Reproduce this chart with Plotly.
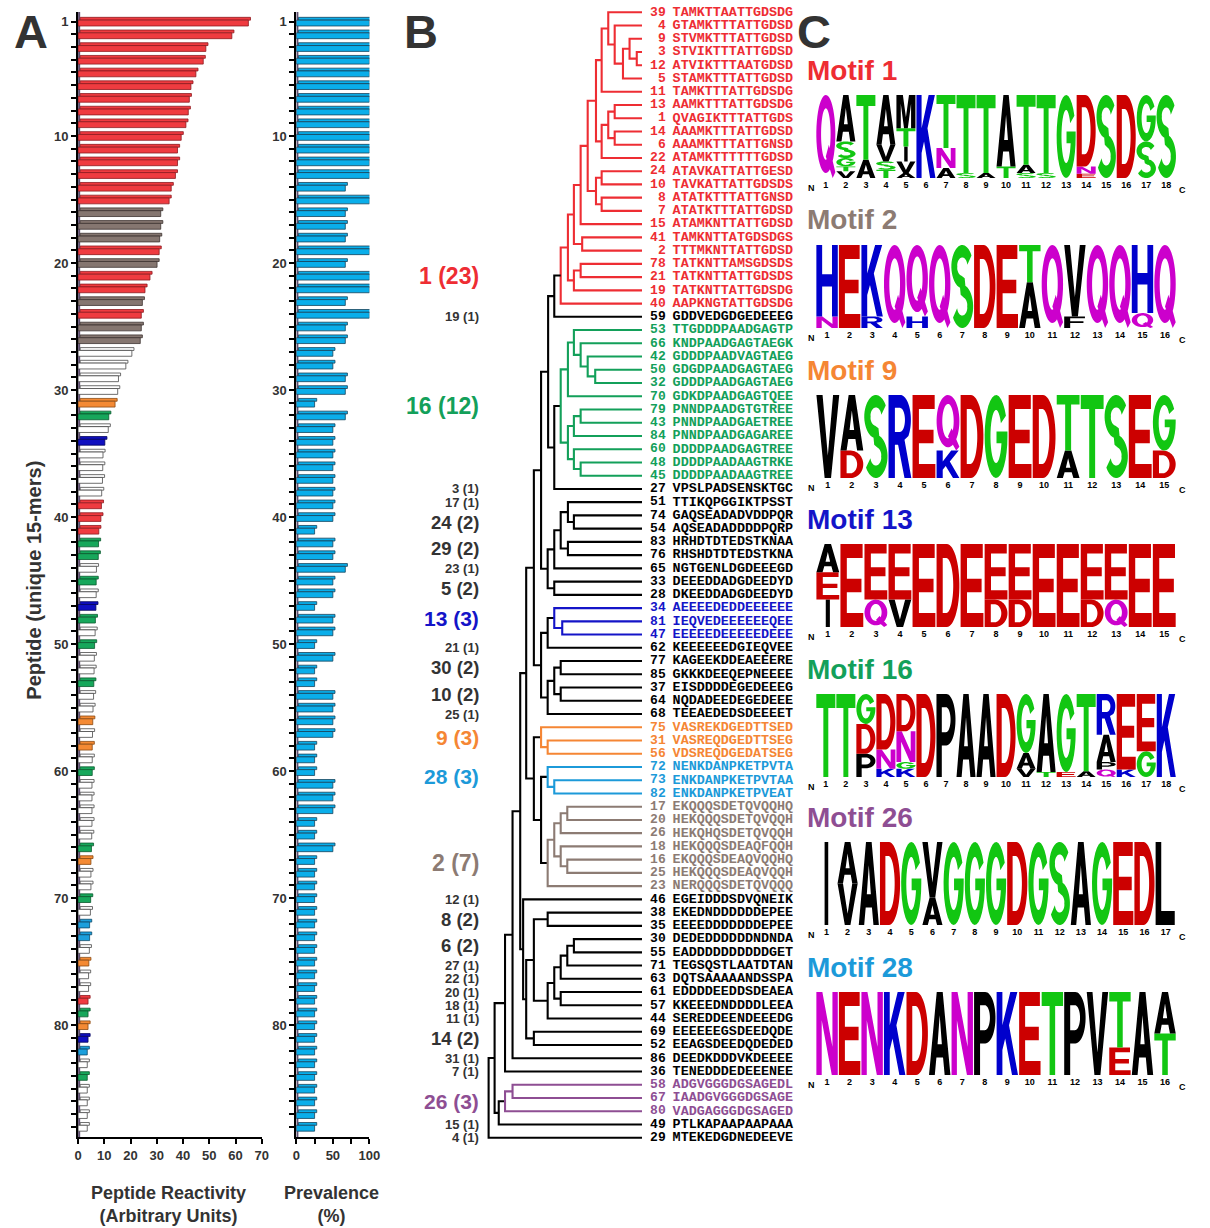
import numpy as np
import plotly.graph_objects as go

W, H = 1210, 1228
SANS = "Liberation Sans, Arial, Helvetica, sans-serif"
MONO = "Liberation Mono, Courier New, monospace"
INK = "#333333"


def fx(p):
    return p / W


def fy(p):
    return 1 - p / H


# ---------------- Panel A: reactivity / prevalence per peptide ----------------
peptide_rank = list(range(1, 89))
reactivity = [
    64.9, 58.6, 48.7, 47.7, 44.9, 43.0, 42.4, 42.0, 41.1, 39.3,
    37.9, 37.9, 37.1, 35.5, 34.7, 31.5, 31.5, 31.1, 30.9, 30.1,
    27.4, 25.5, 24.5, 24.1, 24.1, 23.7, 20.5, 18.2, 15.4, 15.1,
    14.1, 11.7, 11.5, 10.2, 9.5, 9.4, 9.3, 9.0, 8.9, 8.7,
    7.9, 7.8, 7.7, 7.0, 6.9, 6.9, 6.8, 6.6, 6.5, 6.3,
    6.2, 6.1, 6.0, 5.9, 5.7, 5.6, 5.5, 5.4, 5.4, 5.4,
    5.3, 5.3, 5.3, 5.3, 5.2, 5.1, 4.9, 4.9, 4.9, 4.8,
    4.7, 4.4, 4.4, 4.3, 4.1, 4.0, 4.0, 3.8, 3.8, 3.8,
    3.8, 3.5, 3.5, 3.5, 3.5, 3.5, 3.5, 3.5,
]
prevalence = (
    [100] * 13 + [67, 100, 67, 67, 67, 100, 67, 100, 100, 67, 100, 67, 67,
                  50, 50, 67, 67, 25, 67, 50, 50, 50, 50, 50, 50, 50, 50, 25,
                  50, 50, 67, 50,
                  50, 25, 50, 50, 25, 50, 25, 25, 50, 50, 50, 50, 25, 25, 25,
                  50, 50, 50, 25, 25, 50]
    + [25] * 22
)
rank_labels = [1, 10, 20, 30, 40, 50, 60, 70, 80]

# ---------------- motif clusters ----------------
motif_members = {
    "1": [39, 4, 9, 3, 12, 5, 11, 13, 1, 14, 6, 22, 24, 10, 8, 7, 15, 41, 2, 78, 21, 19, 40],
    "16": [53, 66, 42, 50, 32, 70, 79, 43, 84, 60, 48, 45],
    "13": [34, 81, 47],
    "9": [75, 31, 56],
    "28": [72, 73, 82],
    "2": [17, 20, 26, 18, 16, 25, 23],
    "26": [58, 67, 80],
}
motif_color = {"1": "#ee2d33", "2": "#8c7b73", "9": "#f58634", "13": "#1414c8",
               "16": "#13a05a", "26": "#8e4e93", "28": "#1c9ad9"}
bar_fill = {"1": "#ef3b40", "2": "#857670", "9": "#f48a34", "13": "#1010c0",
            "16": "#17a75b", "26": "#f48a34", "28": "#1b9fdc"}
bar_edge = {"1": "#8e1b1f", "2": "#3d3431", "9": "#8a4a12", "13": "#05055a",
            "16": "#0b5a2f", "26": "#8a4a12", "28": "#0d4a6a"}

# ---------------- Panel B: dendrogram ----------------
leaf_ids = [39, 4, 9, 3, 12, 5, 11, 13, 1, 14, 6, 22, 24, 10, 8, 7, 15, 41, 2, 78, 21, 19, 40,
            59, 53, 66, 42, 50, 32, 70, 79, 43, 84, 60, 48, 45, 27, 51, 74, 54, 83, 76, 65,
            33, 28, 34, 81, 47, 62, 77, 85, 37, 64, 68, 75, 31, 56, 72, 73, 82, 17, 20, 26,
            18, 16, 25, 23, 46, 38, 35, 30, 55, 71, 63, 61, 57, 44, 69, 52, 86, 36, 58, 67,
            80, 49, 29]
leaf_seqs = [
    "TAMKTTAATTGDSDG", "GTAMKTTTATTGDSD", "STVMKTTTATTGDSD", "STVIKTTTATTGDSD",
    "ATVIKTTTAATGDSD", "STAMKTTTATTGDSD", "TAMKTTTATTGDSDG", "AAMKTTTATTGDSDG",
    "QVAGIKTTTATTGDS", "AAAMKTTTATTGDSD", "AAAMKTTTATTGNSD", "ATAMKTTTTTTGDSD",
    "ATAVKATTATTGESD", "TAVKATTATTGDSDS", "ATATKTTTATTGNSD", "ATATKTTTATTGDSD",
    "ATAMKNTTATTGDSD", "TAMKNTTATGDSDGS", "TTTMKNTTATTGDSD", "TATKNTTAMSGDSDS",
    "TATKNTTATTGDSDS", "TATKNTTATTGDSDG", "AAPKNGTATTGDSDG", "GDDVEDGDGEDEEEG",
    "TTGDDDPAADGAGTP", "KNDPAADGAGTAEGK", "GDDDPAADVAGTAEG", "GDGDPAADGAGTAEG",
    "GDDDPAADGAGTAEG", "GDKDPAADGAGTQEE", "PNNDPAADGTGTREE", "PNNDPAADGAETREE",
    "PNNDPAADGAGAREE", "DDDDPAADGAGTREE", "DDDDPAADAAGTRKE", "DDDDPAADAAGTREE",
    "VPSLPADSENSKTGC", "TTIKQPGGIKTPSST", "GAQSEADADVDDPQR", "AQSEADADDDDPQRP",
    "HRHDTDTEDSTKNAA", "RHSHDTDTEDSTKNA", "NGTGENLDGDEEEGD", "DEEEDDADGDEEDYD",
    "DKEEDDADGDEEDYD", "AEEEEDEDDEEEEEE", "IEQVEDEEEEEEQEE", "EEEEEDEEEEEDEEE",
    "KEEEEEEDGIEQVEE", "KAGEEKDDEAEEERE", "GKKKDEEQEPNEEEE", "EISDDDDEGEDEEEG",
    "NQDADEEDEGEDEEE", "TEEAEDEDSDEEEET", "VASREKDGEDTTSED", "VASREQDGEDTTSEG",
    "VDSREQDGEDATSEG", "NENKDANPKETPVTA", "ENKDANPKETPVTAA", "ENKDANPKETPVEAT",
    "EKQQQSDETQVQQHQ", "HEKQQQSDETQVQQH", "HEKQHQSDETQVQQH", "HEKQQQSDEAQFQQH",
    "EKQQQSDEAQVQQHQ", "HEKQQQSDEAQVQQH", "NERQQQSDETQVQQQ", "EGEIDDDSDVQNEIK",
    "EKEDNDDDDDDEPEE", "EEEEDDDDDDDEPEE", "DEDEDDDDDDNDNDA", "EADDDDDDDDDDGET",
    "TEGSQSTLAATDTAN", "DQTSAAAAANDSSPA", "EDDDDEEDDSDEAEA", "KKEEEDNDDDDLEEA",
    "SEREDDEENDEEEDG", "EEEEEEGSDEEDQDE", "EEAGSDEEDQDEDED", "DEEDKDDDVKDEEEE",
    "TENEDDDEDEEENEE", "ADGVGGGDGSAGEDL", "IAADGVGGGDGSAGE", "VADGAGGGDGSAGED",
    "PTLKAPAAPAAPAAA", "MTEKEDGDNEDEEVE",
]
# (node, merge height, left child, right child); ints are peptide ids
merges = [
    ("r1", 0.034, 3, 12), ("r2", 0.081, 9, "r1"), ("r3", 0.124, "r2", 5),
    ("r4", 0.178, 4, "r3"), ("r5", 0.220, 39, "r4"), ("r6", 0.263, "r5", 11),
    ("r7", 0.178, 13, 1), ("r8", 0.178, 14, 6), ("r9", 0.220, "r7", "r8"),
    ("r10", 0.263, "r9", 22), ("r11", 0.300, "r6", "r10"),
    ("r12", 0.263, 24, 10), ("r13", 0.263, 8, 7), ("r14", 0.300, "r12", "r13"),
    ("r15", 0.354, "r11", "r14"), ("r16", 0.400, "r15", 15), ("r17", 0.390, 41, 2),
    ("r18", 0.444, "r16", "r17"), ("r19", 0.400, 78, 21), ("r20", 0.444, "r19", 19),
    ("r21", 0.483, "r18", "r20"), ("r22", 0.530, "r21", 40),
    ("b1", 0.572, "r22", 59),
    ("g1", 0.305, 50, 32), ("g2", 0.354, 42, "g1"), ("g3", 0.400, 66, "g2"),
    ("g4", 0.444, 53, "g3"), ("g5", 0.483, "g4", 70), ("g6", 0.400, 79, 43),
    ("g7", 0.444, "g6", 84), ("g8", 0.400, 48, 45), ("g9", 0.444, 60, "g8"),
    ("g10", 0.483, "g7", "g9"), ("g11", 0.530, "g5", "g10"),
    ("b2", 0.572, "g11", 27), ("b3", 0.612, "b1", "b2"),
    ("k1", 0.444, 74, 54), ("k2", 0.483, 51, "k1"), ("k3", 0.483, 83, 76),
    ("k4", 0.530, "k2", "k3"), ("k5", 0.572, "k4", 65), ("k6", 0.572, 33, 28),
    ("k7", 0.615, "k5", "k6"), ("b4", 0.658, "b3", "k7"),
    ("u1", 0.520, 81, 47), ("u2", 0.572, 34, "u1"), ("k8", 0.615, "u2", 62),
    ("k9", 0.530, 77, 85), ("k10", 0.530, 37, 64), ("k11", 0.572, "k9", "k10"),
    ("k12", 0.615, "k11", 68), ("k13", 0.658, "k8", "k12"),
    ("b5", 0.705, "b4", "k13"),
    ("o1", 0.615, 31, 56), ("o2", 0.658, 75, "o1"),
    ("l1", 0.572, 73, 82), ("l2", 0.615, 72, "l1"),
    ("y1", 0.487, 17, 20), ("y2", 0.530, "y1", 26), ("y3", 0.487, 16, 25),
    ("y4", 0.530, 18, "y3"), ("y5", 0.572, "y2", "y4"), ("y6", 0.615, "y5", 23),
    ("k14", 0.658, "l2", "y6"), ("k15", 0.705, "o2", "k14"),
    ("b6", 0.755, "b5", "k15"),
    ("m1", 0.444, 30, 55), ("m2", 0.487, "m1", 71), ("m3", 0.530, "m2", 63),
    ("m4", 0.530, 61, 57), ("m5", 0.572, "m3", "m4"), ("m6", 0.615, "m5", 44),
    ("m7", 0.615, 38, 35), ("m8", 0.705, "m7", "m6"), ("m9", 0.705, 69, 52),
    ("m10", 0.755, "m8", "m9"), ("m11", 0.775, 46, "m10"),
    ("b7", 0.794, "b6", "m11"), ("b8", 0.844, "b7", 86), ("b9", 0.893, "b8", 36),
    ("p1", 0.844, 58, 67), ("p2", 0.893, "p1", 80), ("p3", 0.934, "p2", 49),
    ("b10", 0.961, "b9", "p3"), ("root", 1.000, "b10", 29),
]
cluster_labels = [
    ("1 (23)", motif_members["1"]), ("19 (1)", [59]), ("16 (12)", motif_members["16"]),
    ("3 (1)", [27]), ("17 (1)", [51]), ("24 (2)", [74, 54]), ("29 (2)", [83, 76]),
    ("23 (1)", [65]), ("5 (2)", [33, 28]), ("13 (3)", motif_members["13"]),
    ("21 (1)", [62]), ("30 (2)", [77, 85]), ("10 (2)", [37, 64]), ("25 (1)", [68]),
    ("9 (3)", motif_members["9"]), ("28 (3)", motif_members["28"]),
    ("2 (7)", motif_members["2"]), ("12 (1)", [46]), ("8 (2)", [38, 35]),
    ("6 (2)", [30, 55]), ("27 (1)", [71]), ("22 (1)", [63]), ("20 (1)", [61]),
    ("18 (1)", [57]), ("11 (1)", [44]), ("14 (2)", [69, 52]), ("31 (1)", [86]),
    ("7 (1)", [36]), ("26 (3)", motif_members["26"]), ("15 (1)", [49]), ("4 (1)", [29]),
]

# ---------------- Panel C: motif letter frequencies (top -> bottom) ----------------
motif_order = ["1", "2", "9", "13", "16", "26", "28"]
logo_columns = {
    "1": [
        [("Q", 1.0)],
        [("A", .56), ("S", .20), ("G", .10), ("T", .06), ("V", .08)],
        [("T", .78), ("A", .22)],
        [("A", .60), ("V", .20), ("S", .10), ("T", .10)],
        [("M", .40), ("T", .22), ("I", .18), ("V", .14), ("A", .06)],
        [("K", 1.0)],
        [("T", .64), ("N", .24), ("A", .12)],
        [("T", .94), ("S", .06)],
        [("T", .94), ("A", .06)],
        [("A", .86), ("T", .14)],
        [("T", .84), ("A", .10), ("S", .06)],
        [("T", .94), ("S", .06)],
        [("G", 1.0)],
        [("D", .86), ("N", .09), ("E", .05)],
        [("S", 1.0)],
        [("D", 1.0)],
        [("G", .56), ("S", .44)],
        [("S", 1.0)],
    ],
    "2": [
        [("H", .86), ("N", .14)], [("E", 1.0)], [("K", .86), ("R", .14)], [("Q", 1.0)],
        [("Q", .86), ("H", .14)], [("Q", 1.0)], [("S", 1.0)], [("D", 1.0)], [("E", 1.0)],
        [("T", .45), ("A", .55)], [("Q", 1.0)], [("V", .86), ("F", .14)], [("Q", 1.0)],
        [("Q", 1.0)], [("H", .82), ("Q", .18)], [("Q", 1.0)],
    ],
    "9": [
        [("V", 1.0)], [("A", .67), ("D", .33)], [("S", 1.0)], [("R", 1.0)], [("E", 1.0)],
        [("Q", .67), ("K", .33)], [("D", 1.0)], [("G", 1.0)], [("E", 1.0)], [("D", 1.0)],
        [("T", .67), ("A", .33)], [("T", 1.0)], [("S", 1.0)], [("E", 1.0)],
        [("G", .67), ("D", .33)],
    ],
    "13": [
        [("A", .34), ("E", .33), ("I", .33)], [("E", 1.0)], [("E", .67), ("Q", .33)],
        [("E", .67), ("V", .33)], [("E", 1.0)], [("D", 1.0)], [("E", 1.0)],
        [("E", .67), ("D", .33)], [("E", .67), ("D", .33)], [("E", 1.0)], [("E", 1.0)],
        [("E", .67), ("D", .33)], [("E", .67), ("Q", .33)], [("E", 1.0)], [("E", 1.0)],
    ],
    "16": [
        [("T", 1.0)], [("T", 1.0)], [("G", .36), ("D", .36), ("P", .28)],
        [("D", .67), ("N", .23), ("K", .10)], [("D", .45), ("N", .37), ("G", .08), ("K", .10)],
        [("D", 1.0)], [("P", 1.0)], [("A", 1.0)], [("A", 1.0)], [("D", 1.0)],
        [("G", .71), ("A", .19), ("V", .10)], [("A", .94), ("T", .06)],
        [("G", .94), ("E", .06)], [("T", .93), ("A", .07)],
        [("R", .49), ("A", .33), ("P", .09), ("Q", .09)], [("E", .91), ("K", .09)],
        [("E", .69), ("G", .31)], [("K", 1.0)],
    ],
    "26": [
        [("I", 1.0)], [("A", .5), ("V", .5)], [("A", 1.0)], [("D", 1.0)], [("G", 1.0)],
        [("V", .67), ("A", .33)], [("G", 1.0)], [("G", 1.0)], [("G", 1.0)], [("D", 1.0)],
        [("G", 1.0)], [("S", 1.0)], [("A", 1.0)], [("G", 1.0)], [("E", 1.0)],
        [("D", 1.0)], [("L", 1.0)],
    ],
    "28": [
        [("N", 1.0)], [("E", 1.0)], [("N", 1.0)], [("K", 1.0)], [("D", 1.0)], [("A", 1.0)],
        [("N", 1.0)], [("P", 1.0)], [("K", 1.0)], [("E", 1.0)], [("T", 1.0)], [("P", 1.0)],
        [("V", 1.0)], [("T", .67), ("E", .33)], [("A", 1.0)], [("A", .5), ("T", .5)],
    ],
}
residue_color = {}
for aa in "GSTYC":
    residue_color[aa] = "#12c612"
for aa in "QN":
    residue_color[aa] = "#cc00cc"
for aa in "KRH":
    residue_color[aa] = "#0000cc"
for aa in "DE":
    residue_color[aa] = "#cc0000"
for aa in "AVLIPWFM":
    residue_color[aa] = "#000000"


# ---------------- letter outlines in a unit box ----------------
def arc(cx, cy, rx, ry, a0, a1, n=30):
    t = np.radians(np.linspace(a0, a1, n))
    return [(cx + rx * np.cos(v), cy + ry * np.sin(v)) for v in t]


def s_outline():
    # S as a thick stroke along two stacked half-ellipses
    top = arc(.5, .74, .37, .185, 25, 270, 40)
    bot = arc(.5, .26, .37, .185, 90, -155, 40)
    centre = top + bot[1:]
    pts = np.array(centre)
    outer, inner = [], []
    for i in range(len(pts)):
        a = pts[max(i - 1, 0)]
        b = pts[min(i + 1, len(pts) - 1)]
        d = b - a
        nrm = np.array([-d[1], d[0]])
        nrm = nrm / (np.hypot(*nrm) + 1e-12)
        # thicker strokes on the curved flanks than on the horizontal runs
        wx, wy = 0.14, 0.075
        off = np.array([nrm[0] * wx, nrm[1] * wy]) / max(np.hypot(nrm[0], nrm[1]), 1e-9)
        outer.append(tuple(pts[i] + off))
        inner.append(tuple(pts[i] - off))
    return outer + inner[::-1]


GLYPHS = {
    "A": [([(0, 0), (.27, 0), (.345, .21), (.655, .21), (.73, 0), (1, 0), (.64, 1), (.36, 1)], False),
          ([(.40, .37), (.60, .37), (.5, .72)], True)],
    "D": [([(0, 0)] + arc(.45, .5, .55, .5, -90, 90) + [(0, 1)], False),
          ([(.27, .17)] + arc(.43, .5, .30, .33, -90, 90) + [(.27, .83)], True)],
    "E": [([(0, 0), (1, 0), (1, .17), (.28, .17), (.28, .42), (.92, .42), (.92, .58),
            (.28, .58), (.28, .83), (.97, .83), (.97, 1), (0, 1)], False)],
    "F": [([(0, 0), (.28, 0), (.28, .42), (.9, .42), (.9, .58), (.28, .58), (.28, .83),
            (.97, .83), (.97, 1), (0, 1)], False)],
    "G": [(arc(.5, .5, .5, .5, 30, 360) + [(1, .56), (.52, .56), (.52, .42), (.745, .42)]
           + arc(.5, .5, .245, .32, -15, -330), False)],
    "C": [(arc(.5, .5, .5, .5, 35, 325) + arc(.5, .5, .25, .32, 325, 35), False)],
    "H": [([(0, 0), (.27, 0), (.27, .42), (.73, .42), (.73, 0), (1, 0), (1, 1), (.73, 1),
            (.73, .59), (.27, .59), (.27, 1), (0, 1)], False)],
    "I": [([(.41, 0), (.59, 0), (.59, 1), (.41, 1)], False)],
    "K": [([(0, 0), (.27, 0), (.27, .30), (.40, .44), (.72, 0), (1, 0), (.58, .60), (.97, 1),
            (.64, 1), (.27, .60), (.27, 1), (0, 1)], False)],
    "L": [([(0, 0), (.95, 0), (.95, .17), (.28, .17), (.28, 1), (0, 1)], False)],
    "M": [([(0, 0), (.23, 0), (.23, .74), (.40, 0), (.60, 0), (.77, .74), (.77, 0), (1, 0),
            (1, 1), (.66, 1), (.5, .33), (.34, 1), (0, 1)], False)],
    "N": [([(0, 0), (.25, 0), (.25, .66), (.72, 0), (1, 0), (1, 1), (.75, 1), (.75, .34),
            (.28, 1), (0, 1)], False)],
    "P": [([(0, 0), (.28, 0), (.28, .38)] + arc(.52, .69, .48, .31, -90, 90) + [(0, 1)], False),
          ([(.28, .54)] + arc(.5, .69, .24, .15, -90, 90) + [(.28, .84)], True)],
    "Q": [(arc(.5, .53, .5, .47, 0, 360, 48), False),
          (arc(.5, .53, .25, .31, 0, 360, 48), True),
          ([(.5, .26), (.66, .40), (1.0, .07), (.86, 0)], False)],
    "R": [([(0, 0), (.28, 0), (.28, .40), (.42, .40), (.70, 0), (1.0, 0), (.70, .46)]
           + arc(.52, .70, .46, .30, -40, 90) + [(0, 1)], False),
          ([(.28, .555)] + arc(.5, .70, .22, .145, -90, 90) + [(.28, .845)], True)],
    "S": [(s_outline(), False)],
    "T": [([(0, 1), (0, .83), (.37, .83), (.37, 0), (.63, 0), (.63, .83), (1, .83), (1, 1)], False)],
    "V": [([(0, 1), (.36, 0), (.64, 0), (1, 1), (.73, 1), (.5, .27), (.27, 1)], False)],
}


def signed_area(p):
    s = 0.0
    for (x1, y1), (x2, y2) in zip(p, p[1:] + p[:1]):
        s += x1 * y2 - x2 * y1
    return s / 2


def glyph_path(letter, x0, x1, y0, y1):
    parts = []
    for poly, hole in GLYPHS[letter]:
        poly = list(poly)
        if (signed_area(poly) > 0) == hole:
            poly = poly[::-1]
        pts = [(x0 + (x1 - x0) * u, y0 + (y1 - y0) * v) for u, v in poly]
        parts.append("M" + "L".join(f"{x:.4f},{y:.4f}" for x, y in pts) + "Z")
    return "".join(parts)


fig = go.Figure()
shapes = []
annotations = []
motif_of = {pid: m for m, ids in motif_members.items() for pid in ids}

# ---------------- Panel A drawing ----------------
fills = [bar_fill.get(motif_of.get(r), "#ffffff") for r in peptide_rank]
edges = [bar_edge.get(motif_of.get(r), "#4a4a4a") for r in peptide_rank]
prev_fill = ["#0aaeea"] * len(peptide_rank)
prev_edge = ["#17445c"] * len(peptide_rank)
for xa, ya, vals, shift, fc, ec in [("x", "y", reactivity, 0.8, fills, edges),
                                     ("x2", "y2", prevalence, 2.9, prev_fill, prev_edge)]:
    # upper bevel face, nudged right for depth
    fig.add_trace(go.Bar(orientation="h", y=peptide_rank, x=vals, base=shift, width=0.22,
                         offset=-0.34, marker=dict(color=fc, line=dict(color=ec, width=0.8)),
                         xaxis=xa, yaxis=ya, hoverinfo="skip", showlegend=False))
    # front face
    fig.add_trace(go.Bar(orientation="h", y=peptide_rank, x=vals, base=0, width=0.46,
                         offset=-0.12, marker=dict(color=fc, line=dict(color=ec, width=0.8)),
                         xaxis=xa, yaxis=ya, hoverinfo="skip", showlegend=False))
for xa, ya, wall in [("x", "y", 0.8), ("x2", "y2", 2.8)]:
    shapes.append(dict(type="rect", xref=xa, yref=ya, x0=0, x1=wall, y0=88.8, y1=0.24,
                       fillcolor="#5e4e70", line=dict(width=0), layer="below"))

rank_text = [str(r) if r in rank_labels else "" for r in peptide_rank]
yaxis_common = dict(range=[88.8, 0.24], domain=[fy(1137), fy(12)], tickvals=peptide_rank,
                    ticktext=rank_text, ticks="outside", ticklen=5, tickwidth=2,
                    tickcolor="black", showline=True, linewidth=2, linecolor="black",
                    showgrid=False, zeroline=False,
                    tickfont=dict(family=SANS, size=13, color=INK, weight="bold"))
xaxis_common = dict(ticks="outside", ticklen=5, tickwidth=2, tickcolor="black",
                    showline=True, linewidth=2, linecolor="black", showgrid=False,
                    zeroline=False, tickfont=dict(family=SANS, size=13, color=INK, weight="bold"))

# ---------------- Panel B drawing ----------------
nodes = {name: (h, a, b) for name, h, a, b in merges}
leaf_y = {pid: i for i, pid in enumerate(leaf_ids)}
segments = {}
node_info = {}


def colour_of(leaves):
    ms = {motif_of.get(p) for p in leaves}
    if len(ms) == 1 and None not in ms:
        return motif_color[next(iter(ms))]
    return "#000000"


def walk(n):
    if isinstance(n, int):
        return leaf_y[n], 0.0, [n]
    h, a, b = nodes[n]
    ya, ha, la = walk(a)
    yb, hb, lb = walk(b)
    leaves = la + lb
    xs, ys = segments.setdefault(colour_of(leaves), ([], []))
    xs.extend([ha, h, h, hb, None])
    ys.extend([ya, ya, yb, yb, None])
    ymid = (ya + yb) / 2
    node_info[frozenset(leaves)] = ymid
    return ymid, h, leaves


walk("root")
for col, (xs, ys) in segments.items():
    fig.add_trace(go.Scatter(x=xs, y=ys, mode="lines", line=dict(color=col, width=2.1),
                             xaxis="x3", yaxis="y3", hoverinfo="skip", showlegend=False,
                             cliponaxis=False))

DEN_ZERO_PX, DEN_SCALE = 646.0, 155.3  # pixel of zero height, pixels per unit height


def den_x(p):
    return (DEN_ZERO_PX - p) / DEN_SCALE


leaf_colors = [motif_color.get(motif_of.get(p), "#000000") for p in leaf_ids]
ypos = list(range(len(leaf_ids)))
fig.add_trace(go.Scatter(x=[den_x(670)] * len(leaf_ids), y=ypos, mode="text",
                         text=[str(p) for p in leaf_ids], textposition="middle left",
                         textfont=dict(family=MONO, size=13, color=leaf_colors, weight="bold"),
                         xaxis="x3", yaxis="y3", hoverinfo="skip", showlegend=False,
                         cliponaxis=False))
fig.add_trace(go.Scatter(x=[den_x(677)] * len(leaf_ids), y=ypos, mode="text",
                         text=leaf_seqs, textposition="middle right",
                         textfont=dict(family=MONO, size=13.4, color=leaf_colors, weight="bold"),
                         xaxis="x3", yaxis="y3", hoverinfo="skip", showlegend=False,
                         cliponaxis=False))

for text, ids in cluster_labels:
    n = len(ids)
    if n == 1:
        yv = leaf_y[ids[0]]
    else:
        yv = node_info[frozenset(ids)]
    size = 13 if n == 1 else 18.5 if n == 2 else 21 if n == 3 else 23
    col = motif_color.get(motif_of.get(ids[0]), INK) if n > 2 or ids[0] in motif_of else INK
    annotations.append(dict(text=text, xref="paper", yref="y3", x=fx(483), y=yv,
                            xanchor="right", yanchor="middle", showarrow=False,
                            font=dict(family=SANS, size=size, color=col, weight="bold")))

# ---------------- Panel C drawing ----------------
LOGO_X0, LOGO_X1, LOGO_H = 822, 1187, 83
logo_baselines = [178, 328, 478, 627, 777, 925, 1075]
logo_axes = {}
for i, m in enumerate(motif_order):
    k = 4 + i
    cols = logo_columns[m]
    base = logo_baselines[i]
    logo_axes[f"xaxis{k}"] = dict(domain=[fx(LOGO_X0), fx(LOGO_X1)], range=[0.5, len(cols) + 0.5],
                                  anchor=f"y{k}", tickvals=list(range(1, len(cols) + 1)),
                                  ticks="", showline=False, showgrid=False, zeroline=False,
                                  tickfont=dict(family=SANS, size=9, color="black", weight="bold"))
    logo_axes[f"yaxis{k}"] = dict(domain=[fy(base), fy(base - LOGO_H)], range=[0, 1],
                                  anchor=f"x{k}", visible=False)
    for j, stack in enumerate(cols, start=1):
        total = sum(f for _, f in stack)
        y0 = 0.0
        for letter, f in reversed(stack):
            hgt = f / total
            shapes.append(dict(type="path", xref=f"x{k}", yref=f"y{k}",
                               path=glyph_path(letter, j - 0.475, j + 0.475, y0, y0 + hgt),
                               fillcolor=residue_color[letter], fillrule="nonzero",
                               line=dict(width=0)))
            y0 += hgt
    annotations.append(dict(text=f"Motif {m}", xref="paper", yref="paper", x=fx(811),
                            y=fy(base - 108), xanchor="left", yanchor="middle", showarrow=False,
                            font=dict(family=SANS, size=28, color=motif_color[m], weight="bold")))
    annotations.append(dict(text="N", xref="paper", yref="paper", x=fx(818), y=fy(base + 10),
                            xanchor="center", yanchor="middle", showarrow=False,
                            font=dict(family=SANS, size=9, color="black", weight="bold")))
    annotations.append(dict(text="C", xref="paper", yref="paper", x=fx(1193), y=fy(base + 12),
                            xanchor="center", yanchor="middle", showarrow=False,
                            font=dict(family=SANS, size=9, color="black", weight="bold")))

# ---------------- labels ----------------
for letter, xp in [("A", 27), ("B", 422), ("C", 820)]:
    annotations.append(dict(text=letter, xref="paper", yref="paper", x=fx(xp), y=fy(31),
                            xanchor="center", yanchor="middle", showarrow=False,
                            font=dict(family=SANS, size=47, color=INK, weight="bold")))
annotations.append(dict(text="Peptide (unique 15-mers)", xref="paper", yref="paper",
                        x=fx(30), y=fy(580), textangle=-90, showarrow=False,
                        xanchor="center", yanchor="middle",
                        font=dict(family=SANS, size=20, color=INK, weight="bold")))
annotations.append(dict(text="Peptide Reactivity<br>(Arbitrary Units)", xref="paper",
                        yref="paper", x=fx(167), y=fy(1204), showarrow=False,
                        xanchor="center", yanchor="middle",
                        font=dict(family=SANS, size=18, color=INK, weight="bold")))
annotations.append(dict(text="Prevalence<br>(%)", xref="paper", yref="paper", x=fx(332),
                        y=fy(1204), showarrow=False, xanchor="center", yanchor="middle",
                        font=dict(family=SANS, size=18, color=INK, weight="bold")))

fig.update_layout(
    width=W, height=H, margin=dict(l=0, r=0, t=0, b=0),
    paper_bgcolor="white", plot_bgcolor="rgba(0,0,0,0)",
    barmode="overlay", showlegend=False,
    xaxis=dict(domain=[fx(75), fx(261)], range=[0, 70], anchor="y",
               tickvals=list(range(0, 71, 10)), **xaxis_common),
    xaxis2=dict(domain=[fx(296), fx(370)], range=[0, 100], anchor="y2",
                tickvals=[0, 25, 50, 75, 100], ticktext=["0", "", "50", "", "100"],
                **xaxis_common),
    yaxis=dict(anchor="x", **yaxis_common),
    yaxis2=dict(anchor="x2", **yaxis_common),
    xaxis3=dict(domain=[fx(470), fx(800)], range=[den_x(470), den_x(800)], anchor="y3",
                visible=False),
    yaxis3=dict(domain=[fy(1150), fy(0)], range=[85.93, -0.929], anchor="x3", visible=False),
    shapes=shapes, annotations=annotations,
    **logo_axes,
)

fig.write_html("out.html", config={"displayModeBar": False})
